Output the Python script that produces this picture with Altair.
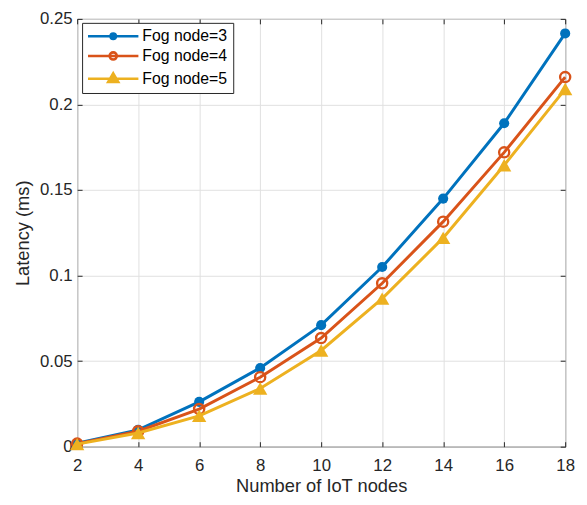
import altair as alt
import pandas as pd

iot_nodes = [2, 4, 6, 8, 10, 12, 14, 16, 18]
fog3 = [0.0020, 0.0098, 0.0262, 0.0460, 0.0710, 0.1050, 0.1450, 0.1890, 0.2415]
fog4 = [0.0018, 0.0090, 0.0220, 0.0406, 0.0635, 0.0955, 0.1315, 0.1720, 0.2160]
fog5 = [0.0015, 0.0080, 0.0180, 0.0340, 0.0562, 0.0865, 0.1220, 0.1645, 0.2090]
series_names = ["Fog node=3", "Fog node=4", "Fog node=5"]
colors = ["#0072BD", "#D95319", "#EDB120"]
x_ticks = [2, 4, 6, 8, 10, 12, 14, 16, 18]
y_ticks = [0, 0.05, 0.1, 0.15, 0.2, 0.25]

rows = []
for name, vals in zip(series_names, [fog3, fog4, fog5]):
    for x, y in zip(iot_nodes, vals):
        rows.append({"nodes": x, "latency": y, "series": name})
df = pd.DataFrame(rows)

FONT = "Liberation Sans"
AX = "#262626"

xs = alt.Scale(domain=[2, 18], nice=False)
ys = alt.Scale(domain=[0, 0.25], nice=False)

x_axis = alt.Axis(values=x_ticks, title="Number of IoT nodes", grid=True, domain=False,
                  offset=-5, tickSize=5, labelPadding=11, format="d", orient="bottom",
                  labelFlush=False)
y_axis = alt.Axis(values=y_ticks, title="Latency (ms)", grid=True, domain=False,
                  offset=-5, tickSize=5, labelPadding=5, format="~g", orient="left",
                  labelFlush=False)

base = alt.Chart(df)

# main axes (grid, labels, titles) on an invisible layer
axes_layer = base.mark_point(opacity=0).encode(
    x=alt.X("nodes:Q", scale=xs, axis=x_axis),
    y=alt.Y("latency:Q", scale=ys, axis=y_axis),
)

# top/right inward ticks
frame = base.mark_point(opacity=0).encode(
    x=alt.X("nodes:Q", scale=xs, axis=alt.Axis(orient="top", values=x_ticks, labels=False, title=None,
                                                grid=False, domain=False, offset=-5, tickSize=5)),
    y=alt.Y("latency:Q", scale=ys, axis=alt.Axis(orient="right", values=y_ticks, labels=False, title=None,
                                                  grid=False, domain=False, offset=-5, tickSize=5)),
)

marker_styles = [
    dict(shape="circle", filled=True, size=105),
    dict(shape="circle", filled=False, size=105, strokeWidth=2.4),
    dict(shape="triangle-up", filled=True, size=210),
]
series_layers = []
for name, col, style in zip(series_names, colors, marker_styles):
    sub = base.transform_filter(alt.datum.series == name)
    series_layers.append(
        sub.mark_line(strokeWidth=3, color=col).encode(
            x=alt.X("nodes:Q", scale=xs, axis=None),
            y=alt.Y("latency:Q", scale=ys, axis=None),
        )
    )
    series_layers.append(
        sub.mark_point(opacity=1, color=col, **style).encode(
            x=alt.X("nodes:Q", scale=xs, axis=None),
            y=alt.Y("latency:Q", scale=ys, axis=None),
        )
    )


# legend symbols: a line with the series marker on it, drawn with strokes only (units of 6 px)
def ring(cx, r):
    return f"M{cx + r},0A{r},{r},0,1,1,{cx - r},0A{r},{r},0,1,1,{cx + r},0Z"


def tri(cx, s):
    return f"M{cx},{-0.9 * s}L{cx + 0.85 * s},{0.55 * s}L{cx - 0.85 * s},{0.55 * s}Z"


cx = 3.0
line_seg = "M-1.25,0H7.25"
legend_shapes = [
    line_seg + ring(cx, 0.22) + ring(cx, 0.45),
    line_seg + ring(cx, 0.6),
    line_seg + tri(cx, 1.0) + tri(cx, 0.5) + tri(cx, 0.12),
]

leg = alt.Legend(title=None, orient="none", legendX=5, legendY=4)

legend_layer = base.transform_filter("false").mark_point(filled=False, opacity=1, strokeWidth=2.6).encode(
    x=alt.X("nodes:Q", scale=xs, axis=None),
    y=alt.Y("latency:Q", scale=ys, axis=None),
    stroke=alt.Stroke("series:N", scale=alt.Scale(domain=series_names, range=colors), legend=leg),
    shape=alt.Shape("series:N", scale=alt.Scale(domain=series_names, range=legend_shapes), legend=leg),
)

chart = alt.layer(axes_layer, frame, *series_layers, legend_layer).resolve_axis(
    x="independent", y="independent"
).properties(
    width=494, height=433,
    autosize=alt.AutoSizeParams(type="none"),
    padding={"left": 70, "top": 8, "right": 14, "bottom": 55},
).configure_view(
    stroke=AX, strokeWidth=1
).configure_axis(
    labelFont=FONT, titleFont=FONT, labelFontSize=17, titleFontSize=18.5,
    labelColor="#262626", titleColor="#262626", titleFontWeight="normal",
    gridColor="#e0e0e0", gridWidth=1, tickColor=AX, tickWidth=1,
).configure_axisX(titlePadding=3).configure_axisY(titlePadding=7).configure_legend(
    orient="none", legendX=5, legendY=4,
    symbolSize=144, symbolStrokeWidth=2.6, symbolOpacity=1,
    labelFontSize=16, labelFont=FONT, labelColor="#000000",
    strokeColor=AX, fillColor="#ffffff", padding=5.5,
    rowPadding=3, labelOffset=39.5,
)

chart.save("out.html", embed_options={"renderer": "svg", "actions": False})
